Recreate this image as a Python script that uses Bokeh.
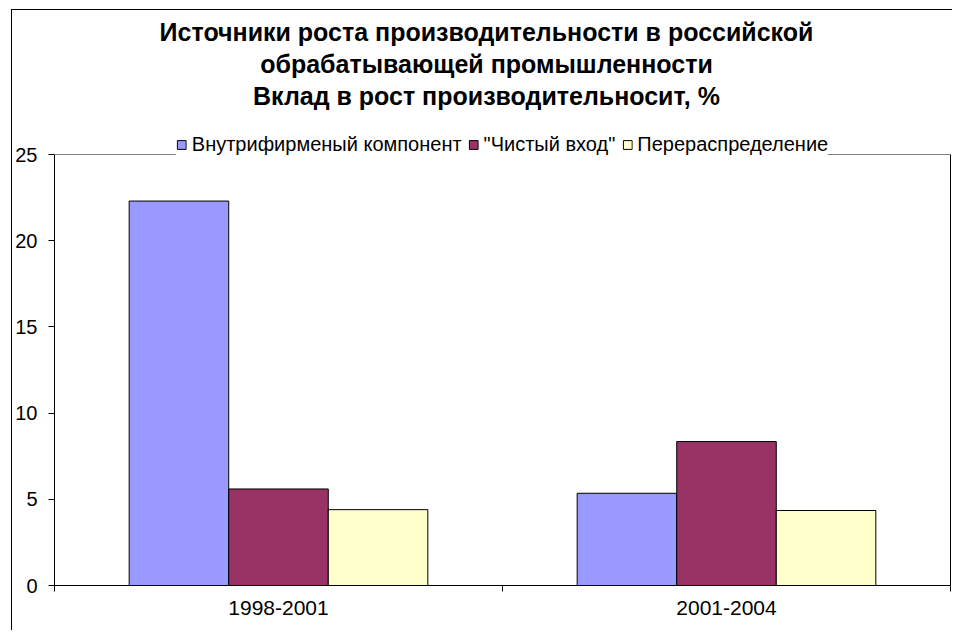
from bokeh.plotting import figure
from bokeh.models import (ColumnDataSource, Range1d, FixedTicker, Legend, LegendItem,
                          Label, Span, LinearAxis)
from bokeh.transform import dodge
from bokeh.embed import file_html
from bokeh.resources import INLINE

# ---- data ----
title_lines = ["Источники роста производительности в российской",
               "обрабатывающей промышленности",
               "Вклад в рост производительносит, %"]
categories = ["1998-2001", "2001-2004"]
series_names = ["Внутрифирменый компонент", "\"Чистый вход\"", "Перераспределение"]
intra_firm = [22.3, 5.35]
net_entry = [5.6, 8.35]
realloc = [4.4, 4.35]
y_ticks = [0, 5, 10, 15, 20, 25]
y_max = 25

colors = ["#9999FF", "#993366", "#FFFFCC"]
FONT = "Liberation Sans"

# ---- layout (pixels) ----
FRAME_W, FRAME_H = 896, 585      # frame reaches the top of the canvas
PLOT_TOP = 154                    # pixel row of the value 25
y_end = y_max * FRAME_H / (FRAME_H - PLOT_TOP)

pos = [i + 0.5 for i in range(len(categories))]
src = ColumnDataSource(dict(pos=pos, a=intra_firm, b=net_entry, c=realloc))

frame_bg = ("linear-gradient(#000,#000) 11px 9px / 1px 100% no-repeat, "
            "linear-gradient(#000,#000) 11px 9px / 100% 1px no-repeat, #fff")

p = figure(frame_width=FRAME_W, frame_height=FRAME_H,
           x_range=Range1d(0, len(categories)), y_range=Range1d(0, y_end),
           output_backend="svg", toolbar_location=None,
           min_border_left=54, min_border_right=2, min_border_top=0, min_border_bottom=45,
           styles={"background": frame_bg})

bw = 1 / 4.5
renderers = []
for field, off, col in zip(["a", "b", "c"], [-bw, 0, bw], colors):
    r = p.vbar(x=dodge("pos", off), top=field, width=bw, bottom=0, source=src,
               fill_color=col, line_color="black", line_width=1)
    renderers.append(r)

# grids / outline
p.xgrid.visible = False
p.ygrid.visible = False
p.outline_line_color = None
p.background_fill_alpha = 0
p.border_fill_alpha = 0

# top edge of the plot area (grey)
p.add_layout(Span(location=y_max, dimension="width", line_color="#808080", line_width=1))

# x axis
xa = p.xaxis[0]
xa.ticker = FixedTicker(ticks=pos, minor_ticks=list(range(len(categories) + 1)))
xa.major_label_overrides = {t: c for t, c in zip(pos, categories)}
xa.major_tick_line_color = None
xa.major_tick_out = 0
xa.major_tick_in = 0
xa.minor_tick_line_color = "black"
xa.minor_tick_out = 6
xa.minor_tick_in = 0
xa.axis_line_color = "black"
xa.major_label_standoff = 9
xa.major_label_text_font = FONT
xa.major_label_text_font_size = "21px"
xa.major_label_text_color = "black"

# y axis
ya = p.yaxis[0]
ya.ticker = FixedTicker(ticks=y_ticks)
ya.bounds = (0, y_max)
ya.major_tick_out = 6
ya.major_tick_in = 0
ya.major_tick_line_color = "black"
ya.minor_tick_line_color = None
ya.axis_line_color = "black"
ya.major_label_standoff = 11
ya.major_label_text_font = FONT
ya.major_label_text_font_size = "20px"
ya.major_label_text_color = "black"

# right edge of the plot area (black)
ra = LinearAxis(ticker=FixedTicker(ticks=[]), bounds=(0, y_max), axis_line_color="black",
                major_tick_line_color=None, minor_tick_line_color=None,
                major_tick_out=0, major_tick_in=0, minor_tick_out=0, minor_tick_in=0,
                major_label_standoff=0, major_label_text_font_size="0px")
p.add_layout(ra, "right")

# legend
items = [LegendItem(label=n, renderers=[r]) for n, r in zip(series_names, renderers)]
legend = Legend(items=items, orientation="horizontal", location="top_center",
                border_line_color=None, background_fill_color="white", background_fill_alpha=1,
                padding=6, margin=133, spacing=6, glyph_width=11, glyph_height=11,
                label_standoff=5, label_height=20, label_text_font=FONT,
                label_text_font_size="20px", label_text_color="black")
p.add_layout(legend, "center")

# title lines
for txt, yy in zip(title_lines, [31, 63, 95]):
    p.add_layout(Label(x=432, y=FRAME_H - yy, x_units="screen", y_units="screen", text=txt,
                       text_align="center", text_baseline="middle",
                       text_font=FONT, text_font_style="bold",
                       text_font_size="25px", text_color="black"))

open("out.html", "w").write(file_html(p, INLINE))
